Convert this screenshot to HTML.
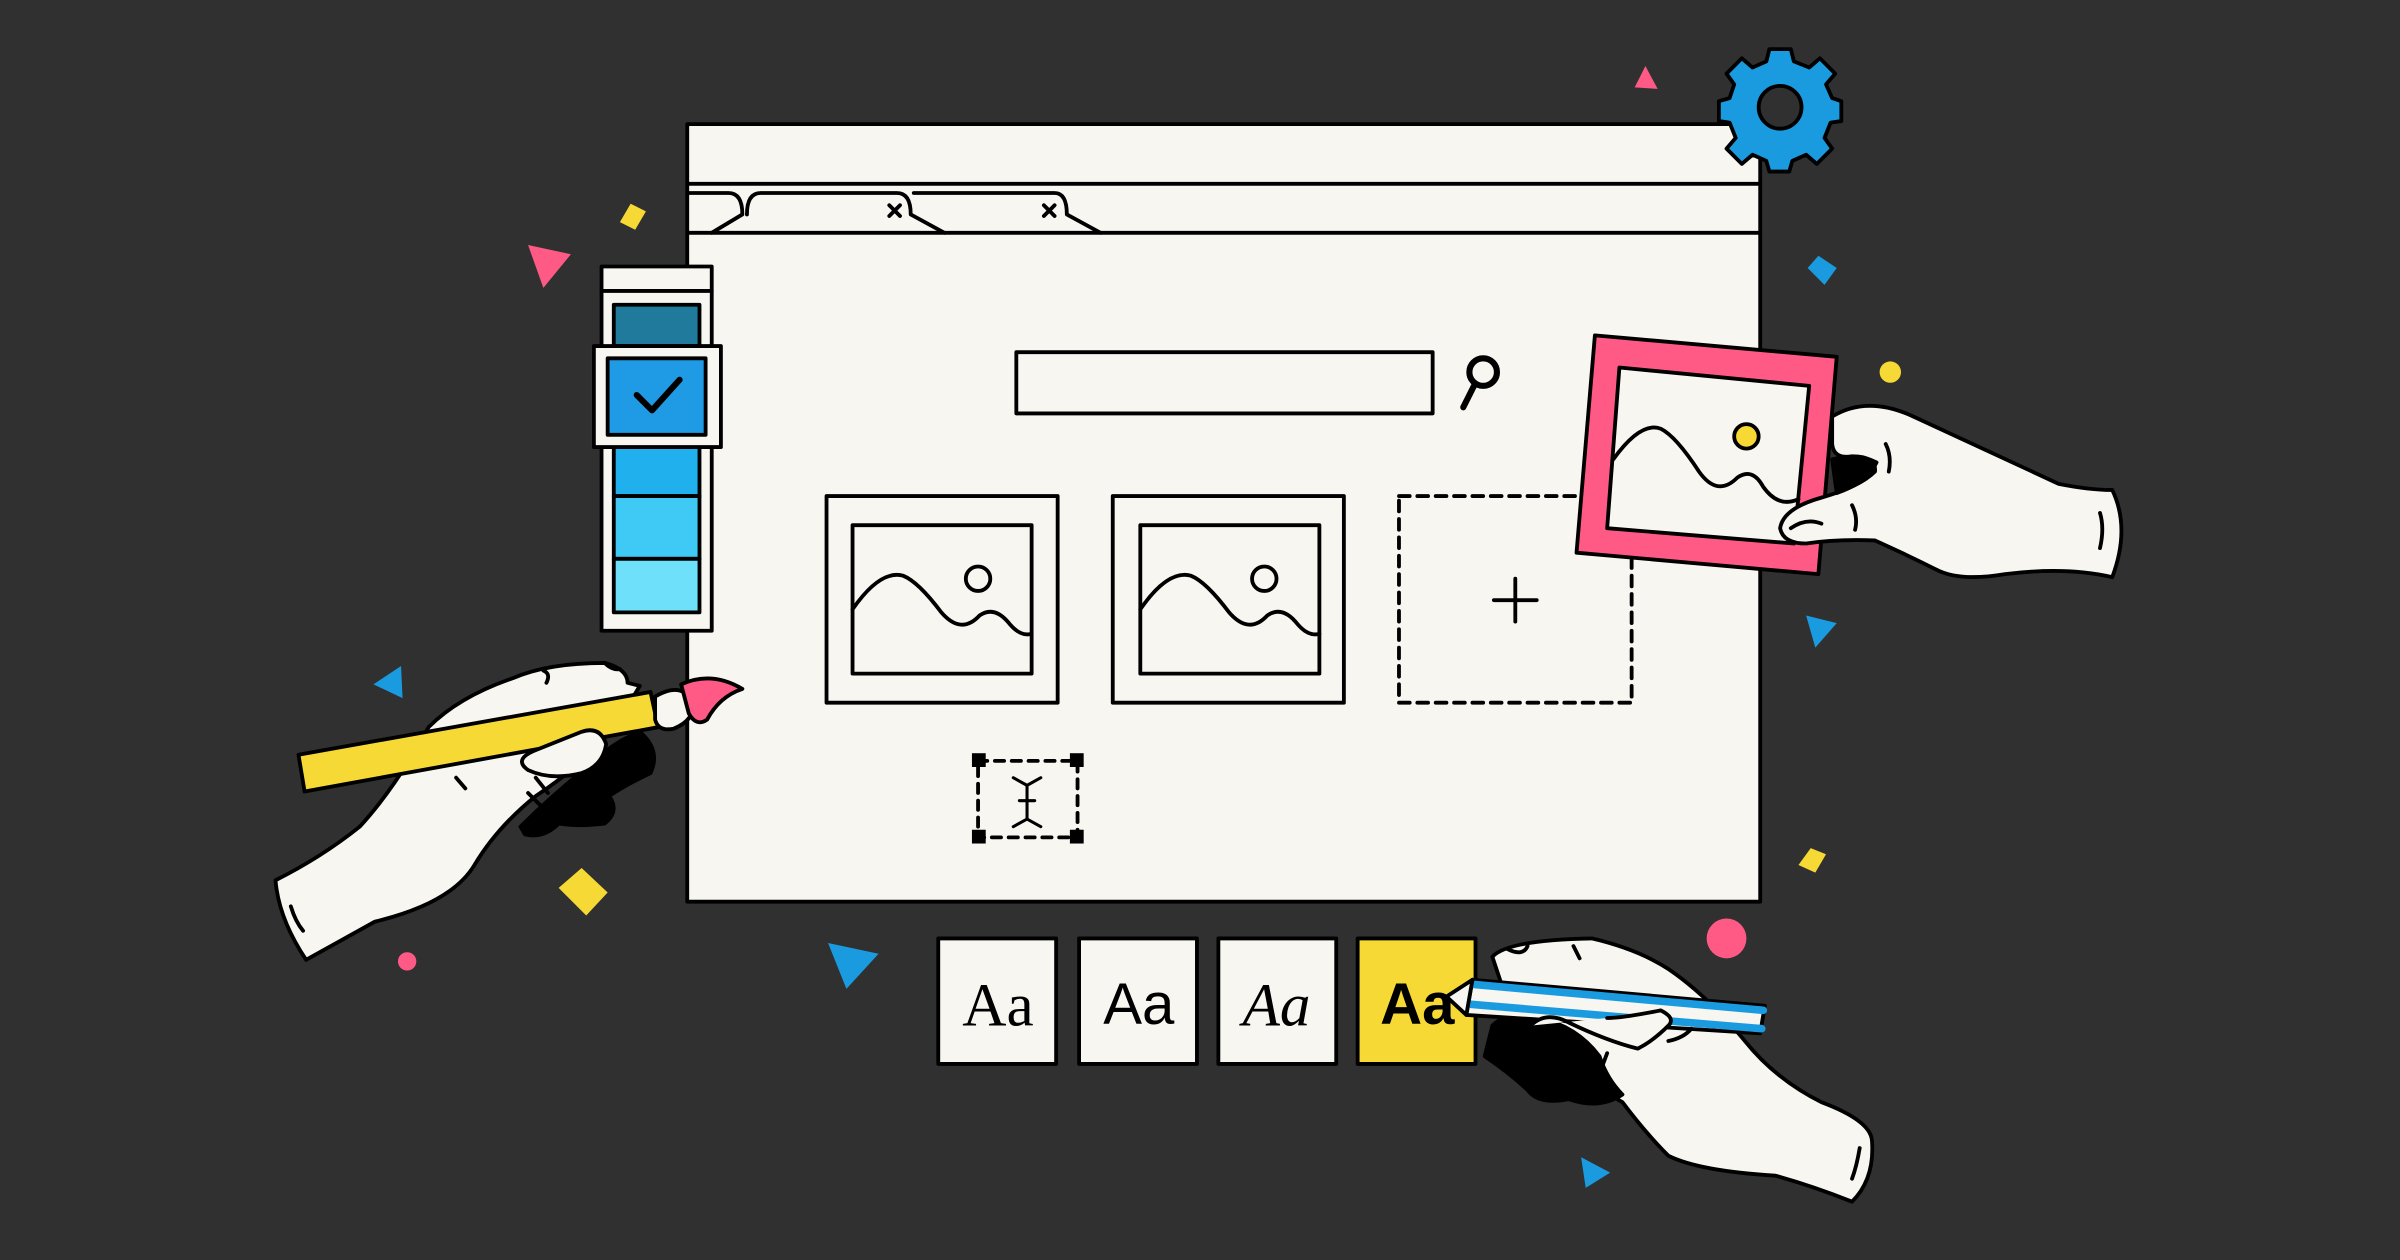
<!DOCTYPE html>
<html><head><meta charset="utf-8"><style>
html,body{margin:0;padding:0;background:#303030;}
svg{display:block;}
</style></head><body>
<svg width="2400" height="1260" viewBox="0 0 1568 823" xmlns="http://www.w3.org/2000/svg">
<rect width="1568" height="823" fill="#303030"/>
<g stroke="#000" stroke-width="2.5" stroke-linejoin="round" stroke-linecap="round">
<!-- window -->
<rect x="449" y="81" width="701" height="508" fill="#f8f6f1"/>
<line x1="449" y1="120" x2="1150" y2="120"/>
<line x1="449" y1="152" x2="1150" y2="152"/>
<path d="M449 126 H476 Q485 126 485 140 L465 152" fill="none"/>
<path d="M488 140 Q488 126 497 126 H586 Q595 126 595 140 L617 152" fill="none"/>
<path d="M597 126 H689 Q697 126 697 140 L719 152" fill="none"/>
<path d="M581 134 l7 7 M588 134 l-7 7 M682 134 l7 7 M689 134 l-7 7" fill="none"/>
<!-- search -->
<rect x="664" y="230" width="272" height="40" fill="#f8f6f1"/>
<circle cx="969" cy="243" r="9" fill="none" stroke-width="4"/>
<line x1="963" y1="252" x2="956" y2="266" stroke-width="4"/>
<!-- image cards -->
<rect x="540" y="324" width="151" height="135" fill="#f8f6f1"/>
<rect x="557" y="343" width="117" height="97" fill="none"/>
<circle cx="639" cy="378" r="8" fill="none"/>
<path d="M557 398 Q575 372 590 376 Q600 380 615 400 Q628 415 640 402 Q650 395 660 408 Q667 416 674 414" fill="none"/>
<rect x="727" y="324" width="151" height="135" fill="#f8f6f1"/>
<rect x="745" y="343" width="117" height="97" fill="none"/>
<circle cx="826" cy="378" r="8" fill="none"/>
<path d="M745 398 Q763 372 778 376 Q788 380 803 400 Q816 415 828 402 Q838 395 848 408 Q855 416 862 414" fill="none"/>
<rect x="914" y="324" width="152" height="135" fill="none" stroke-dasharray="7 5"/>
<path d="M990 378 V406 M976 392 H1004" fill="none"/>
<!-- text selection -->
<rect x="639" y="497" width="65" height="50" fill="none" stroke-dasharray="6 5"/>
<g fill="#000" stroke="none">
<rect x="635" y="492" width="9" height="9"/><rect x="699" y="492" width="9" height="9"/>
<rect x="635" y="542" width="9" height="9"/><rect x="699" y="542" width="9" height="9"/>
</g>
<path d="M662 508 l9 5 l9 -5 M671 513 V535 M662 540 l9 -5 l9 5 M666 523 h10" fill="none" stroke-width="2"/>
<!-- font boxes -->
<rect x="613" y="613" width="77" height="82" fill="#f8f6f1"/>
<rect x="705" y="613" width="77" height="82" fill="#f8f6f1"/>
<rect x="796" y="613" width="77" height="82" fill="#f8f6f1"/>
<rect x="887" y="613" width="77" height="82" fill="#f7d935"/>
<!-- palette -->
<rect x="393" y="174" width="72" height="238" fill="#f8f6f1"/>
<line x1="393" y1="190" x2="465" y2="190"/>
<rect x="401" y="199" width="56" height="27" fill="#1f7a9b"/>
<rect x="401" y="292" width="56" height="32" fill="#20b0ee"/>
<rect x="401" y="324" width="56" height="41" fill="#3fcaf5"/>
<rect x="401" y="365" width="56" height="35" fill="#6ee0fa"/>
<rect x="388" y="226" width="83" height="66" fill="#f8f6f1"/>
<rect x="397" y="234" width="64" height="50" fill="#1f9be5"/>
<path d="M416 258 l10 10 l18 -20" fill="none" stroke-width="4"/>
<!-- gear -->
<g transform="translate(1163,70)">
<path d="M-7 -38 H7 L9 -30 L19 -26 L26 -32 L36 -22 L30 -15 L34 -6 L40 -4 V9 L33 10 L29 20 L34 27 L24 37 L17 31 L8 35 L6 42 H-7 L-9 35 L-18 31 L-25 37 L-35 27 L-29 20 L-33 10 L-40 9 V-4 L-33 -6 L-30 -15 L-35 -22 L-25 -32 L-18 -26 L-9 -30 Z" fill="#1a9be0"/>
<circle r="14" fill="#303030"/>
</g>
<!-- pink frame -->
<polygon points="1042,219 1200,233 1188,375 1030,361" fill="#ff5a86"/>
<polygon points="1058,240 1182,252 1172,355 1050,345" fill="#f8f6f1"/>
<path d="M1054 300 Q1072 275 1085 280 Q1095 285 1110 308 Q1122 325 1135 312 Q1145 305 1152 318 Q1162 332 1175 326" fill="none"/>
<circle cx="1141" cy="285" r="8" fill="#f7d935"/>
<!-- right top hand -->
<path d="M1197 272 Q1220 258 1250 272 Q1300 295 1345 316 Q1365 320 1380 320 Q1392 345 1380 377 Q1350 370 1310 375 Q1280 380 1265 372 Q1245 362 1225 353 Q1200 352 1180 355 Q1165 355 1163 345 Q1165 332 1190 325 Q1215 318 1225 308 Q1226 298 1210 298 Q1198 300 1197 290 Z" fill="#f8f6f1"/>
<path d="M1197 300 Q1215 296 1226 302 Q1220 315 1200 322 Z" fill="#000"/>
<path d="M1372 335 Q1375 345 1372 358 M1232 290 Q1236 298 1234 308 M1210 330 Q1214 338 1212 346 M1170 345 Q1180 338 1190 342" fill="none"/>
<!-- yellow brush & left hand -->
<path d="M200 627 Q182 600 180 575 Q210 560 235 540 Q258 515 280 475 Q300 455 335 443 Q358 433 395 433 Q410 437 410 446 L418 448 Q405 470 395 482 Q380 500 350 520 Q325 540 310 565 Q295 590 245 602 Z" fill="#f8f6f1"/>
<path d="M340 540 Q360 520 385 500 Q400 485 418 478 Q432 490 425 505 Q410 512 398 520 Q405 530 395 538 Q378 540 365 538 Q355 548 343 545 Z" fill="#000"/>
<polygon points="195,493 425,452 430,475 199,517" fill="#f7d935"/>
<path d="M428 455 Q445 445 452 458 Q455 470 440 476 Q430 478 428 470 Z" fill="#f8f6f1"/>
<path d="M445 447 Q465 438 485 450 Q470 455 462 470 Q455 475 450 466 Z" fill="#ff5a86"/>
<path d="M380 478 Q392 474 396 486 Q394 500 380 505 Q360 510 345 503 Q335 496 350 490 Z" fill="#f8f6f1"/>
<path d="M190 592 Q193 602 198 608 M298 508 l6 7 M350 508 l8 10 M345 518 l8 8 M355 438 Q360 440 357 446 M395 433 Q400 438 405 437" fill="none"/>
<!-- bottom right hand & pencil -->
<path d="M975 625 Q985 614 1040 613 Q1070 620 1090 633 Q1115 650 1140 680 Q1160 705 1190 720 Q1222 732 1223 745 Q1225 770 1210 785 Q1185 775 1160 768 Q1110 765 1090 755 Q1075 740 1060 720 Q1035 705 1010 695 Q995 685 990 670 Z" fill="#f8f6f1"/>
<path d="M975 670 Q985 660 1005 665 Q1030 670 1045 690 Q1050 705 1060 715 Q1045 725 1025 718 Q1005 722 998 712 Q985 700 970 690 Z" fill="#000"/>
<polygon points="962,640 1153,657 1150,675 958,663" fill="#f8f6f1"/>
<path d="M962 643 L1152 660 M960 656 L1151 672" fill="none" stroke="#1a9be0" stroke-width="5"/>
<polygon points="962,640 958,663 945,651" fill="#f8f6f1"/>
<path d="M1000 670 Q1010 660 1025 668 Q1050 680 1070 685 Q1080 680 1090 670 Q1095 665 1085 660 Q1060 665 1050 665" fill="#f8f6f1"/>
<path d="M1215 750 Q1213 762 1210 770 M985 620 Q995 625 998 618 M1028 618 l4 8 M1040 685 l-3 8 M1050 688 l-3 8 M1090 680 Q1100 678 1105 672" fill="none"/>
</g>
<!-- font texts -->
<text x="652" y="670" font-family="Liberation Serif, serif" font-size="40" text-anchor="middle" fill="#000">Aa</text>
<text x="744" y="669" font-family="Liberation Sans, sans-serif" font-size="38" text-anchor="middle" fill="#000">Aa</text>
<text x="834" y="670" font-family="Liberation Serif, serif" font-style="italic" font-size="40" text-anchor="middle" fill="#000">Aa</text>
<text x="926" y="669" font-family="Liberation Sans, sans-serif" font-weight="bold" font-size="38" text-anchor="middle" fill="#000">Aa</text>
<!-- confetti -->
<polygon points="1068,57 1075,43 1083,58" fill="#ff5a86"/>
<polygon points="405,145 412,133 422,138 415,150" fill="#f7d935"/>
<polygon points="345,160 373,166 355,188" fill="#ff5a86"/>
<polygon points="1181,175 1188,167 1200,175 1192,186" fill="#1a9be0"/>
<circle cx="1235" cy="243" r="7" fill="#f7d935"/>
<polygon points="1180,402 1200,407 1186,423" fill="#1a9be0"/>
<polygon points="244,447 262,435 263,456" fill="#1a9be0"/>
<polygon points="1175,565 1183,554 1193,558 1186,570" fill="#f7d935"/>
<circle cx="1128" cy="613" r="13" fill="#ff5a86"/>
<polygon points="365,580 380,567 397,583 383,598" fill="#f7d935"/>
<circle cx="266" cy="628" r="6" fill="#ff5a86"/>
<polygon points="541,616 574,623 553,646" fill="#1a9be0"/>
<polygon points="1033,756 1052,766 1036,776" fill="#1a9be0"/>
</svg>
</body></html>
